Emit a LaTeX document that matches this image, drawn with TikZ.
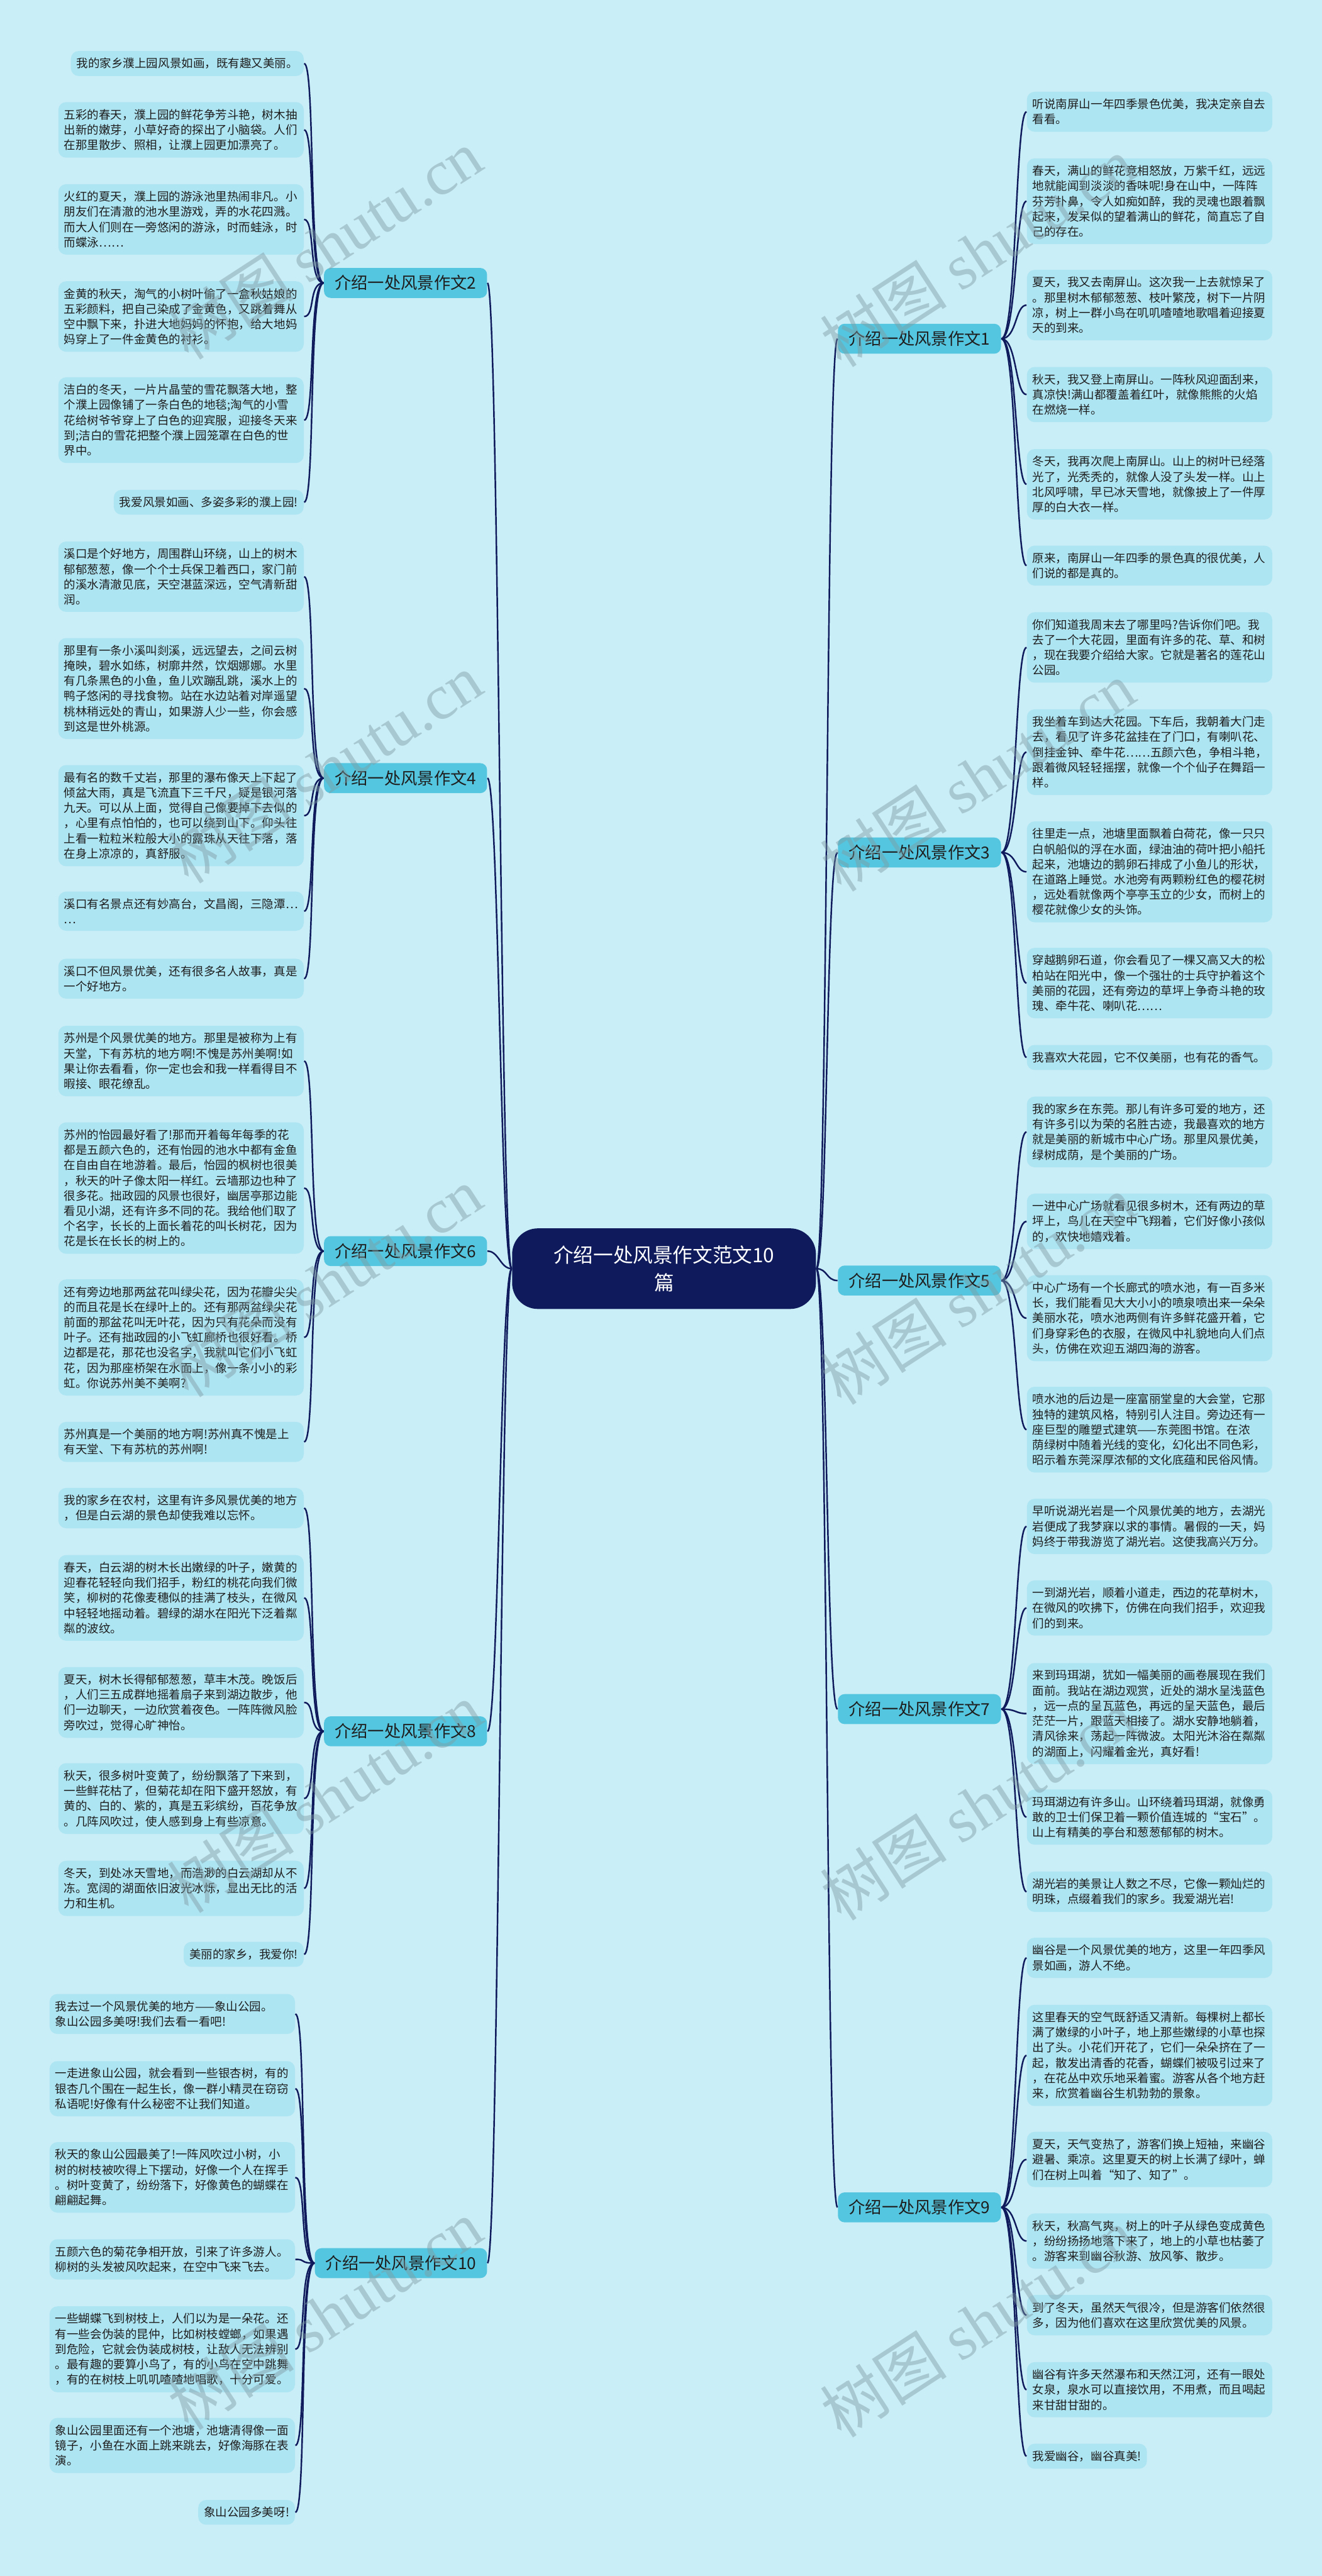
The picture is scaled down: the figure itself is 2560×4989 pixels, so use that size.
\documentclass[tikz,border=0pt]{standalone}
\usepackage{fontspec}
\setmainfont{Noto Sans CJK SC}
\newfontfamily\wmlatin{Liberation Serif}
\definecolor{bgc}{HTML}{C9EEF7}
\definecolor{leafc}{HTML}{AEE5F3}
\definecolor{branchc}{HTML}{55C6DF}
\definecolor{navy}{HTML}{0E1A5B}
\definecolor{txtc}{HTML}{1E1E1E}
\definecolor{wmc}{HTML}{7F9AA3}
\newcommand{\leaffont}{\fontsize{6.42pt}{8.39pt}\selectfont}
\newcommand{\branchfont}{\fontsize{9.1pt}{11pt}\selectfont}
\newcommand{\centerfont}{\fontsize{10.95pt}{15.4pt}\selectfont}
\newcommand{\wmfont}{\fontsize{35pt}{40pt}\selectfont}
\tikzset{
  leafbase/.style={fill=leafc, rounded corners=0.15cm, inner xsep=0.11cm, inner ysep=0.135cm, align=left, font=\leaffont, text=txtc},
  leaf/.style={leafbase, text width=4.53cm},
  lleaf/.style={leaf, anchor=north east},
  rleaf/.style={leaf, anchor=north west},
  lshort/.style={leafbase, anchor=north east},
  rshort/.style={leafbase, anchor=north west},
  branch/.style={fill=branchc, rounded corners=0.13cm, inner xsep=0.21cm, inner ysep=0pt, minimum height=0.58cm, font=\branchfont, text=txtc},
  centre/.style={fill=navy, rounded corners=0.5cm, minimum width=5.88cm, minimum height=1.56cm, align=center, font=\centerfont, text=white},
  conn/.style={draw=navy, line width=0.85pt},
  wm/.style={font=\wmfont, text=wmc, opacity=0.45, rotate=33, anchor=base west, inner sep=0pt}
}
\begin{document}
\begin{tikzpicture}[x=0.01cm, y=-0.01cm]
\fill[bgc] (0,0) rectangle (2560,4989);
\useasboundingbox (0,0) rectangle (2560,4989);

% centre
\node[centre] (c) at (1286,2457) {介绍一处风景作文范文10\\篇};

% branches
\node[branch, anchor=west] (b1) at (1622,656) {介绍一处风景作文1};
\node[branch, anchor=east] (b2) at (944,548) {介绍一处风景作文2};
\node[branch, anchor=west] (b3) at (1622,1651) {介绍一处风景作文3};
\node[branch, anchor=east] (b4) at (944,1507) {介绍一处风景作文4};
\node[branch, anchor=west] (b5) at (1622,2480) {介绍一处风景作文5};
\node[branch, anchor=east] (b6) at (944,2423) {介绍一处风景作文6};
\node[branch, anchor=west] (b7) at (1622,3310) {介绍一处风景作文7};
\node[branch, anchor=east] (b8) at (944,3353) {介绍一处风景作文8};
\node[branch, anchor=west] (b9) at (1622,4275) {介绍一处风景作文9};
\node[branch, anchor=east] (b10) at (944,4383) {介绍一处风景作文10};

% left leaves: branch 2
\node[lshort] (l1a) at (589,98) {我的家乡濮上园风景如画，既有趣又美丽。};
\node[lleaf] (l1b) at (589,197) {五彩的春天，濮上园的鲜花争芳斗艳，树木抽\\出新的嫩芽，小草好奇的探出了小脑袋。人们\\在那里散步、照相，让濮上园更加漂亮了。};
\node[lleaf] (l1c) at (589,356) {火红的夏天，濮上园的游泳池里热闹非凡。小\\朋友们在清澈的池水里游戏，弄的水花四溅。\\而大人们则在一旁悠闲的游泳，时而蛙泳，时\\而蝶泳……};
\node[lleaf] (l1d) at (589,544) {金黄的秋天，淘气的小树叶偷了一盒秋姑娘的\\五彩颜料，把自己染成了金黄色，又跳着舞从\\空中飘下来，扑进大地妈妈的怀抱，给大地妈\\妈穿上了一件金黄色的衬衫。};
\node[lleaf] (l1e) at (589,730) {洁白的冬天，一片片晶莹的雪花飘落大地，整\\个濮上园像铺了一条白色的地毯;淘气的小雪\\花给树爷爷穿上了白色的迎宾服，迎接冬天来\\到;洁白的雪花把整个濮上园笼罩在白色的世\\界中。};
\node[lshort] (l1f) at (589,948) {我爱风景如画、多姿多彩的濮上园!};

% branch 4
\node[lleaf] (l2a) at (589,1048) {溪口是个好地方，周围群山环绕，山上的树木\\郁郁葱葱，像一个个士兵保卫着西口，家门前\\的溪水清澈见底，天空湛蓝深远，空气清新甜\\润。};
\node[lleaf] (l2b) at (589,1235) {那里有一条小溪叫剡溪，远远望去，之间云树\\掩映，碧水如练，树廓井然，饮烟娜娜。水里\\有几条黑色的小鱼，鱼儿欢蹦乱跳，溪水上的\\鸭子悠闲的寻找食物。站在水边站着对岸遥望\\桃林稍远处的青山，如果游人少一些，你会感\\到这是世外桃源。};
\node[lleaf] (l2c) at (589,1481) {最有名的数千丈岩，那里的瀑布像天上下起了\\倾盆大雨，真是飞流直下三千尺，疑是银河落\\九天。可以从上面，觉得自己像要掉下去似的\\，心里有点怕怕的，也可以绕到山下。仰头往\\上看一粒粒米粒般大小的露珠从天往下落，落\\在身上凉凉的，真舒服。};
\node[lleaf] (l2d) at (589,1726) {溪口有名景点还有妙高台，文昌阁，三隐潭…\\…};
\node[lleaf] (l2e) at (589,1856) {溪口不但风景优美，还有很多名人故事，真是\\一个好地方。};

% branch 6
\node[lleaf] (l3a) at (589,1986) {苏州是个风景优美的地方。那里是被称为上有\\天堂，下有苏杭的地方啊!不愧是苏州美啊!如\\果让你去看看，你一定也会和我一样看得目不\\暇接、眼花缭乱。};
\node[lleaf] (l3b) at (589,2173) {苏州的怡园最好看了!那而开着每年每季的花\\都是五颜六色的，还有怡园的池水中都有金鱼\\在自由自在地游着。最后，怡园的枫树也很美\\，秋天的叶子像太阳一样红。云墙那边也种了\\很多花。拙政园的风景也很好，幽居亭那边能\\看见小湖，还有许多不同的花。我给他们取了\\个名字，长长的上面长着花的叫长树花，因为\\花是长在长长的树上的。};
\node[lleaf] (l3c) at (589,2477) {还有旁边地那两盆花叫绿尖花，因为花瓣尖尖\\的而且花是长在绿叶上的。还有那两盆绿尖花\\前面的那盆花叫无叶花，因为只有花朵而没有\\叶子。还有拙政园的小飞虹廊桥也很好看。桥\\边都是花，那花也没名字，我就叫它们小飞虹\\花，因为那座桥架在水面上，像一条小小的彩\\虹。你说苏州美不美啊?};
\node[lleaf] (l3d) at (589,2753) {苏州真是一个美丽的地方啊!苏州真不愧是上\\有天堂、下有苏杭的苏州啊!};

% branch 8
\node[lleaf] (l4a) at (589,2881) {我的家乡在农村，这里有许多风景优美的地方\\，但是白云湖的景色却使我难以忘怀。};
\node[lleaf] (l4b) at (589,3011) {春天，白云湖的树木长出嫩绿的叶子，嫩黄的\\迎春花轻轻向我们招手，粉红的桃花向我们微\\笑，柳树的花像麦穗似的挂满了枝头，在微风\\中轻轻地摇动着。碧绿的湖水在阳光下泛着粼\\粼的波纹。};
\node[lleaf] (l4c) at (589,3228) {夏天，树木长得郁郁葱葱，草丰木茂。晚饭后\\，人们三五成群地摇着扇子来到湖边散步，他\\们一边聊天，一边欣赏着夜色。一阵阵微风脸\\旁吹过，觉得心旷神怡。};
\node[lleaf] (l4d) at (589,3414) {秋天，很多树叶变黄了，纷纷飘落了下来到，\\一些鲜花枯了，但菊花却在阳下盛开怒放，有\\黄的、白的、紫的，真是五彩缤纷，百花争放\\。几阵风吹过，使人感到身上有些凉意。};
\node[lleaf] (l4e) at (589,3603) {冬天，到处冰天雪地，而浩渺的白云湖却从不\\冻。宽阔的湖面依旧波光冰烁，显出无比的活\\力和生机。};
\node[lshort] (l4f) at (589,3760) {美丽的家乡，我爱你!};

% branch 10
\node[lleaf] (l5a) at (572,3861) {我去过一个风景优美的地方——象山公园。\\象山公园多美呀!我们去看一看吧!};
\node[lleaf] (l5b) at (572,3991) {一走进象山公园，就会看到一些银杏树，有的\\银杏几个围在一起生长，像一群小精灵在窃窃\\私语呢!好像有什么秘密不让我们知道。};
\node[lleaf] (l5c) at (572,4148) {秋天的象山公园最美了!一阵风吹过小树，小\\树的树枝被吹得上下摆动，好像一个人在挥手\\。树叶变黄了，纷纷落下，好像黄色的蝴蝶在\\翩翩起舞。};
\node[lleaf] (l5d) at (572,4336) {五颜六色的菊花争相开放，引来了许多游人。\\柳树的头发被风吹起来，在空中飞来飞去。};
\node[lleaf] (l5e) at (572,4466) {一些蝴蝶飞到树枝上，人们以为是一朵花。还\\有一些会伪装的昆仲，比如树枝螳螂，如果遇\\到危险，它就会伪装成树枝，让敌人无法辨别\\。最有趣的要算小鸟了，有的小鸟在空中跳舞\\，有的在树枝上叽叽喳喳地唱歌，十分可爱。};
\node[lleaf] (l5f) at (572,4682) {象山公园里面还有一个池塘，池塘清得像一面\\镜子，小鱼在水面上跳来跳去，好像海豚在表\\演。};
\node[lshort] (l5g) at (572,4841) {象山公园多美呀!};

% right leaves: branch 1
\node[rleaf] (r1a) at (1988,177) {听说南屏山一年四季景色优美，我决定亲自去\\看看。};
\node[rleaf] (r1b) at (1988,306) {春天，满山的鲜花竞相怒放，万紫千红，远远\\地就能闻到淡淡的香味呢!身在山中，一阵阵\\芬芳扑鼻，令人如痴如醉，我的灵魂也跟着飘\\起来，发呆似的望着满山的鲜花，简直忘了自\\己的存在。};
\node[rleaf] (r1c) at (1988,522) {夏天，我又去南屏山。这次我一上去就惊呆了\\。那里树木郁郁葱葱、枝叶繁茂，树下一片阴\\凉，树上一群小鸟在叽叽喳喳地歌唱着迎接夏\\天的到来。};
\node[rleaf] (r1d) at (1988,710) {秋天，我又登上南屏山。一阵秋风迎面刮来，\\真凉快!满山都覆盖着红叶，就像熊熊的火焰\\在燃烧一样。};
\node[rleaf] (r1e) at (1988,869) {冬天，我再次爬上南屏山。山上的树叶已经落\\光了，光秃秃的，就像人没了头发一样。山上\\北风呼啸，早已冰天雪地，就像披上了一件厚\\厚的白大衣一样。};
\node[rleaf] (r1f) at (1988,1056) {原来，南屏山一年四季的景色真的很优美，人\\们说的都是真的。};

% branch 3
\node[rleaf] (r3a) at (1988,1185) {你们知道我周末去了哪里吗?告诉你们吧。我\\去了一个大花园，里面有许多的花、草、和树\\，现在我要介绍给大家。它就是著名的莲花山\\公园。};
\node[rleaf] (r3b) at (1988,1373) {我坐着车到达大花园。下车后，我朝着大门走\\去，看见了许多花盆挂在了门口，有喇叭花、\\倒挂金钟、牵牛花……五颜六色，争相斗艳，\\跟着微风轻轻摇摆，就像一个个仙子在舞蹈一\\样。};
\node[rleaf] (r3c) at (1988,1590) {往里走一点，池塘里面飘着白荷花，像一只只\\白帆船似的浮在水面，绿油油的荷叶把小船托\\起来，池塘边的鹅卵石排成了小鱼儿的形状，\\在道路上睡觉。水池旁有两颗粉红色的樱花树\\，远处看就像两个亭亭玉立的少女，而树上的\\樱花就像少女的头饰。};
\node[rleaf] (r3d) at (1988,1835) {穿越鹅卵石道，你会看见了一棵又高又大的松\\柏站在阳光中，像一个强壮的士兵守护着这个\\美丽的花园，还有旁边的草坪上争奇斗艳的玫\\瑰、牵牛花、喇叭花……};
\node[rleaf] (r3e) at (1988,2023) {我喜欢大花园，它不仅美丽，也有花的香气。};

% branch 5
\node[rleaf] (r5a) at (1988,2123) {我的家乡在东莞。那儿有许多可爱的地方，还\\有许多引以为荣的名胜古迹，我最喜欢的地方\\就是美丽的新城市中心广场。那里风景优美，\\绿树成荫，是个美丽的广场。};
\node[rleaf] (r5b) at (1988,2311) {一进中心广场就看见很多树木，还有两边的草\\坪上，鸟儿在天空中飞翔着，它们好像小孩似\\的，欢快地嬉戏着。};
\node[rleaf] (r5c) at (1988,2469) {中心广场有一个长廊式的喷水池，有一百多米\\长，我们能看见大大小小的喷泉喷出来一朵朵\\美丽水花，喷水池两侧有许多鲜花盛开着，它\\们身穿彩色的衣服，在微风中礼貌地向人们点\\头，仿佛在欢迎五湖四海的游客。};
\node[rleaf] (r5d) at (1988,2685) {喷水池的后边是一座富丽堂皇的大会堂，它那\\独特的建筑风格，特别引人注目。旁边还有一\\座巨型的雕塑式建筑——东莞图书馆。在浓\\荫绿树中随着光线的变化，幻化出不同色彩，\\昭示着东莞深厚浓郁的文化底蕴和民俗风情。};

% branch 7
\node[rleaf] (r7a) at (1988,2902) {早听说湖光岩是一个风景优美的地方，去湖光\\岩便成了我梦寐以求的事情。暑假的一天，妈\\妈终于带我游览了湖光岩。这使我高兴万分。};
\node[rleaf] (r7b) at (1988,3060) {一到湖光岩，顺着小道走，西边的花草树木，\\在微风的吹拂下，仿佛在向我们招手，欢迎我\\们的到来。};
\node[rleaf] (r7c) at (1988,3220) {来到玛珥湖，犹如一幅美丽的画卷展现在我们\\面前。我站在湖边观赏，近处的湖水呈浅蓝色\\，远一点的呈瓦蓝色，再远的呈天蓝色，最后\\茫茫一片，跟蓝天相接了。湖水安静地躺着，\\清风徐来，荡起一阵微波。太阳光沐浴在粼粼\\的湖面上，闪耀着金光，真好看!};
\node[rleaf] (r7d) at (1988,3465) {玛珥湖边有许多山。山环绕着玛珥湖，就像勇\\敢的卫士们保卫着一颗价值连城的“宝石”。\\山上有精美的亭台和葱葱郁郁的树木。};
\node[rleaf] (r7e) at (1988,3624) {湖光岩的美景让人数之不尽，它像一颗灿烂的\\明珠，点缀着我们的家乡。我爱湖光岩!};

% branch 9
\node[rleaf] (r9a) at (1988,3752) {幽谷是一个风景优美的地方，这里一年四季风\\景如画，游人不绝。};
\node[rleaf] (r9b) at (1988,3882) {这里春天的空气既舒适又清新。每棵树上都长\\满了嫩绿的小叶子，地上那些嫩绿的小草也探\\出了头。小花们开花了，它们一朵朵挤在了一\\起，散发出清香的花香，蝴蝶们被吸引过来了\\，在花丛中欢乐地采着蜜。游客从各个地方赶\\来，欣赏着幽谷生机勃勃的景象。};
\node[rleaf] (r9c) at (1988,4128) {夏天，天气变热了，游客们换上短袖，来幽谷\\避暑、乘凉。这里夏天的树上长满了绿叶，蝉\\们在树上叫着“知了、知了”。};
\node[rleaf] (r9d) at (1988,4286) {秋天，秋高气爽，树上的叶子从绿色变成黄色\\，纷纷扬扬地落下来了，地上的小草也枯萎了\\。游客来到幽谷秋游、放风筝、散步。};
\node[rleaf] (r9e) at (1988,4444) {到了冬天，虽然天气很冷，但是游客们依然很\\多，因为他们喜欢在这里欣赏优美的风景。};
\node[rleaf] (r9f) at (1988,4574) {幽谷有许多天然瀑布和天然江河，还有一眼处\\女泉，泉水可以直接饮用，不用煮，而且喝起\\来甘甜甘甜的。};
\node[rshort] (r9g) at (1988,4732) {我爱幽谷，幽谷真美!};

% centre -> branches
\foreach \b in {b1,b3,b5,b7,b9}
  \draw[conn] (c.east) .. controls +(22,0) and +(-22,0) .. (\b.west);
\foreach \b in {b2,b4,b6,b8,b10}
  \draw[conn] (c.west) .. controls +(-22,0) and +(22,0) .. (\b.east);

% branches -> leaves
\foreach \l in {l1a,l1b,l1c,l1d,l1e,l1f}
  \draw[conn] (b2.west) .. controls +(-30,0) and +(22,0) .. (\l.east);
\foreach \l in {l2a,l2b,l2c,l2d,l2e}
  \draw[conn] (b4.west) .. controls +(-30,0) and +(22,0) .. (\l.east);
\foreach \l in {l3a,l3b,l3c,l3d}
  \draw[conn] (b6.west) .. controls +(-30,0) and +(22,0) .. (\l.east);
\foreach \l in {l4a,l4b,l4c,l4d,l4e,l4f}
  \draw[conn] (b8.west) .. controls +(-30,0) and +(22,0) .. (\l.east);
\foreach \l in {l5a,l5b,l5c,l5d,l5e,l5f,l5g}
  \draw[conn] (b10.west) .. controls +(-30,0) and +(22,0) .. (\l.east);
\foreach \l in {r1a,r1b,r1c,r1d,r1e,r1f}
  \draw[conn] (b1.east) .. controls +(30,0) and +(-22,0) .. (\l.west);
\foreach \l in {r3a,r3b,r3c,r3d,r3e}
  \draw[conn] (b3.east) .. controls +(30,0) and +(-22,0) .. (\l.west);
\foreach \l in {r5a,r5b,r5c,r5d}
  \draw[conn] (b5.east) .. controls +(30,0) and +(-22,0) .. (\l.west);
\foreach \l in {r7a,r7b,r7c,r7d,r7e}
  \draw[conn] (b7.east) .. controls +(30,0) and +(-22,0) .. (\l.west);
\foreach \l in {r9a,r9b,r9c,r9d,r9e,r9f,r9g}
  \draw[conn] (b9.east) .. controls +(30,0) and +(-22,0) .. (\l.west);

% watermarks
\foreach \y [count=\i] in {700,1715,2710,3708,4710} {
  \node[wm] (wl\i) at (366,\y) {树图 {\wmlatin shutu.cn}};
  \node[wm] (wr\i) at (1630,\y+15) {树图 {\wmlatin shutu.cn}};
}
\end{tikzpicture}
\end{document}
